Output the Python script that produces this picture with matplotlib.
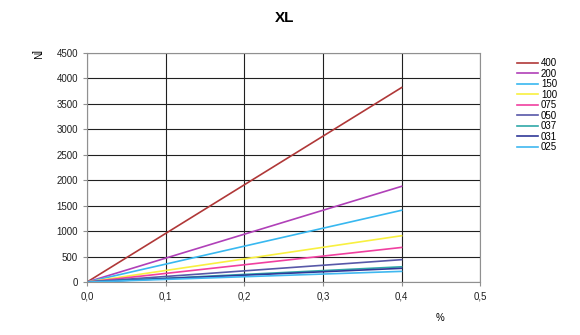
import matplotlib.pyplot as plt
from matplotlib.ticker import FuncFormatter

plt.rcParams['font.family'] = ['Liberation Sans', 'DejaVu Sans']

# strain in %, force in N at 0.4 %
x_vals = [0.0, 0.4]
labels = ['400', '200', '150', '100', '075', '050', '037', '031', '025']
end_force = [3820, 1880, 1410, 910, 680, 440, 300, 270, 210]
colors = ['#b03838', '#b040b8', '#38b8f0', '#f8f040', '#f040a0',
          '#5858a8', '#30a8a8', '#303898', '#40b8f0']

x_ticks = [0.0, 0.1, 0.2, 0.3, 0.4, 0.5]
y_ticks = list(range(0, 4501, 500))

fig = plt.figure(figsize=(5.8, 3.35), dpi=100)
ax = fig.add_axes([0.15, 0.158, 0.678, 0.684])

for lab, f, c in zip(labels, end_force, colors):
    ax.plot(x_vals, [0, f], color=c, lw=1.2, label=lab)

ax.set_xlim(0, 0.5)
ax.set_ylim(0, 4500)
ax.set_xticks(x_ticks)
ax.set_yticks(y_ticks)
ax.xaxis.set_major_formatter(FuncFormatter(lambda v, p: f'{v:.1f}'.replace('.', ',')))
ax.grid(True, color='#202020', lw=0.8)
ax.set_axisbelow(True)
for s in ax.spines.values():
    s.set_color('#909090')
ax.tick_params(labelsize=7, color='#909090', length=3, colors='#202020')

fig.text(0.49, 0.945, 'XL', ha='center', va='center', fontsize=11, fontweight='bold')
fig.text(0.06, 0.835, '[N', rotation=270, ha='center', va='center', fontsize=7)
fig.text(0.758, 0.05, '%', ha='center', va='center', fontsize=7)

leg = ax.legend(loc='upper left', bbox_to_anchor=(1.07, 1.015), frameon=False,
                fontsize=7, handlelength=2.2, labelspacing=0.05, handletextpad=0.3)

fig.savefig('out.png', dpi=100)
